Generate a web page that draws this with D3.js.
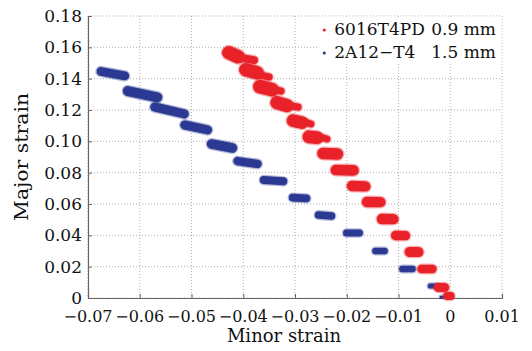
<!DOCTYPE html>
<html>
<head>
<meta charset="utf-8">
<script src="https://cdn.jsdelivr.net/npm/d3@7"></script>
<style>
  body { margin: 0; background: #fff; }
  text { font-family: "DejaVu Serif", serif; fill: #111; }
</style>
</head>
<body>
<div id="chart"></div>
<script>
// Axis ticks
const minorTicks = [-0.07, -0.06, -0.05, -0.04, -0.03, -0.02, -0.01, 0, 0.01];
const majorTicks = [0, 0.02, 0.04, 0.06, 0.08, 0.10, 0.12, 0.14, 0.16, 0.18];

// Legend entries
const seriesAlloy = ["6016T4PD", "2A12\u2212T4"];
const seriesThick = ["0.9 mm", "1.5 mm"];

// Point clouds, one strand per measured step: [minor0, major0, minor1, major1, spread]
const cloud6016 = [
    [-0.04280, 0.1566, -0.04101, 0.1540, 0.0086],
    [-0.04024, 0.1532, -0.03792, 0.1519, 0.0050],
    [-0.03950, 0.1457, -0.03734, 0.1438, 0.0086],
    [-0.03676, 0.1423, -0.03502, 0.1411, 0.0046],
    [-0.03680, 0.1349, -0.03444, 0.1330, 0.0086],
    [-0.03386, 0.1328, -0.03271, 0.1321, 0.0046],
    [-0.03350, 0.1247, -0.03155, 0.1228, 0.0084],
    [-0.03097, 0.1226, -0.02942, 0.1219, 0.0046],
    [-0.03040, 0.1132, -0.02865, 0.1119, 0.0080],
    [-0.02807, 0.1123, -0.02691, 0.1111, 0.0044],
    [-0.02730, 0.1029, -0.02575, 0.1023, 0.0082],
    [-0.02517, 0.1028, -0.02382, 0.1015, 0.0044],
    [-0.02460, 0.0922, -0.02180, 0.0919, 0.0074],
    [-0.02210, 0.0817, -0.01870, 0.0815, 0.0068],
    [-0.01900, 0.0715, -0.01640, 0.0712, 0.0066],
    [-0.01610, 0.0613, -0.01350, 0.0612, 0.0066],
    [-0.01320, 0.0504, -0.01100, 0.0503, 0.0066],
    [-0.01055, 0.0399, -0.00865, 0.0398, 0.0060],
    [-0.00785, 0.0294, -0.00615, 0.0293, 0.0064],
    [-0.00555, 0.0185, -0.00345, 0.0185, 0.0054],
    [-0.00230, 0.0067, -0.00110, 0.0067, 0.0058],
    [-0.00060, 0.0013, 0.00008, 0.0013, 0.0050]
];

const cloud2A12 = [
    [-0.06750, 0.1446, -0.06290, 0.1418, 0.0056],
    [-0.06230, 0.1321, -0.05660, 0.1281, 0.0064],
    [-0.05710, 0.1219, -0.05140, 0.1175, 0.0058],
    [-0.05130, 0.1104, -0.04690, 0.1073, 0.0058],
    [-0.04610, 0.0983, -0.04210, 0.0958, 0.0062],
    [-0.04110, 0.0874, -0.03725, 0.0856, 0.0054],
    [-0.03605, 0.0753, -0.03225, 0.0745, 0.0050],
    [-0.03045, 0.0641, -0.02780, 0.0636, 0.0050],
    [-0.02545, 0.0530, -0.02295, 0.0524, 0.0048],
    [-0.02005, 0.0415, -0.01755, 0.0415, 0.0044],
    [-0.01445, 0.0300, -0.01270, 0.0300, 0.0042],
    [-0.00925, 0.0185, -0.00730, 0.0185, 0.0042],
    [-0.00385, 0.0077, -0.00245, 0.0077, 0.0032],
    [-0.00179, 0.0006, -0.00121, 0.0006, 0.0016]
];

const colors = { red: "#e9222a", blue: "#2b3992" };

const W = 532, H = 351;
const margin = { top: 16, right: 30, bottom: 53, left: 88 };
const width = W - margin.left - margin.right;
const height = H - margin.top - margin.bottom;

const svg = d3.select("#chart").append("svg")
    .attr("width", W)
    .attr("height", H);

const g = svg.append("g").attr("transform", `translate(${margin.left},${margin.top})`);

const x = d3.scaleLinear().domain([-0.07, 0.01]).range([0, width]);
const y = d3.scaleLinear().domain([0, 0.18]).range([height, 0]);

// grid
g.append("g").selectAll("line").data(minorTicks).join("line")
    .attr("x1", d => x(d)).attr("x2", d => x(d))
    .attr("y1", 0).attr("y2", height)
    .attr("stroke", "#9a9a9a").attr("stroke-width", 0.8).attr("stroke-dasharray", "1,2");
g.append("g").selectAll("line").data(majorTicks).join("line")
    .attr("x1", 0).attr("x2", width)
    .attr("y1", d => y(d)).attr("y2", d => y(d))
    .attr("stroke", "#9a9a9a").attr("stroke-width", 0.8).attr("stroke-dasharray", "1,2");

// axes (ticks pointing inward, labels drawn separately)
const fmt = d => d === 0 ? "0" : d3.format(".2f")(d);
const xAxis = g.append("g").attr("transform", `translate(0,${height})`)
    .call(d3.axisTop(x).tickValues(minorTicks).tickSize(4).tickFormat(""));
const yAxis = g.append("g")
    .call(d3.axisRight(y).tickValues(majorTicks).tickSize(4).tickFormat(""));
[xAxis, yAxis].forEach(a => {
    a.select(".domain").attr("stroke", "#666").attr("stroke-width", 1.2);
    a.selectAll(".tick line").attr("stroke", "#666");
});

g.append("g").selectAll("text").data(minorTicks).join("text")
    .attr("x", d => x(d)).attr("y", height + 24)
    .attr("text-anchor", "middle")
    .style("font-size", "16px")
    .text(fmt);
g.append("g").selectAll("text").data(majorTicks).join("text")
    .attr("x", -6).attr("y", d => y(d)).attr("dy", "0.36em")
    .attr("text-anchor", "end")
    .style("font-size", "17px")
    .text(fmt);

// data strands: faint halo for the scattered fringe, then the dense core
function drawCloud(data, color) {
    const s = g.append("g");
    s.selectAll("line.halo").data(data).join("line")
        .attr("class", "halo")
        .attr("x1", d => x(d[0])).attr("y1", d => y(d[1]))
        .attr("x2", d => x(d[2])).attr("y2", d => y(d[3]))
        .attr("stroke", color).attr("stroke-opacity", 0.35)
        .attr("stroke-linecap", "round")
        .attr("stroke-width", d => y(0) - y(d[4]) + 2.5);
    s.selectAll("line.core").data(data).join("line")
        .attr("class", "core")
        .attr("x1", d => x(d[0])).attr("y1", d => y(d[1]))
        .attr("x2", d => x(d[2])).attr("y2", d => y(d[3]))
        .attr("stroke", color)
        .attr("stroke-linecap", "round")
        .attr("stroke-width", d => y(0) - y(d[4]));
}
drawCloud(cloud2A12, colors.blue);
drawCloud(cloud6016, colors.red);

// legend
const legX = x(-0.0255);
const leg = g.append("g").attr("transform", `translate(${legX},0)`);
leg.append("rect").attr("x", 0).attr("y", 0.6)
    .attr("width", width - legX - 0.6).attr("height", 46)
    .attr("fill", "#fff");
[colors.red, colors.blue].forEach((c, i) => {
    leg.append("circle").attr("cx", 6).attr("cy", 14 + i * 23).attr("r", 1.6).attr("fill", c);
    const t = leg.append("text").attr("y", 19 + i * 23).style("font-size", "17px");
    t.append("tspan").attr("x", 16).text(seriesAlloy[i]);
    t.append("tspan").attr("x", width - legX - 6).attr("text-anchor", "end").text(" " + seriesThick[i]);
});

// axis titles
svg.append("text")
    .attr("x", 284).attr("y", 342)
    .attr("text-anchor", "middle")
    .style("font-size", "18px")
    .text("Minor strain");
svg.append("text")
    .attr("transform", "translate(28,157) rotate(-90)")
    .attr("text-anchor", "middle")
    .style("font-size", "18px")
    .attr("textLength", 128)
    .attr("lengthAdjust", "spacingAndGlyphs")
    .text("Major strain");
</script>
</body>
</html>
